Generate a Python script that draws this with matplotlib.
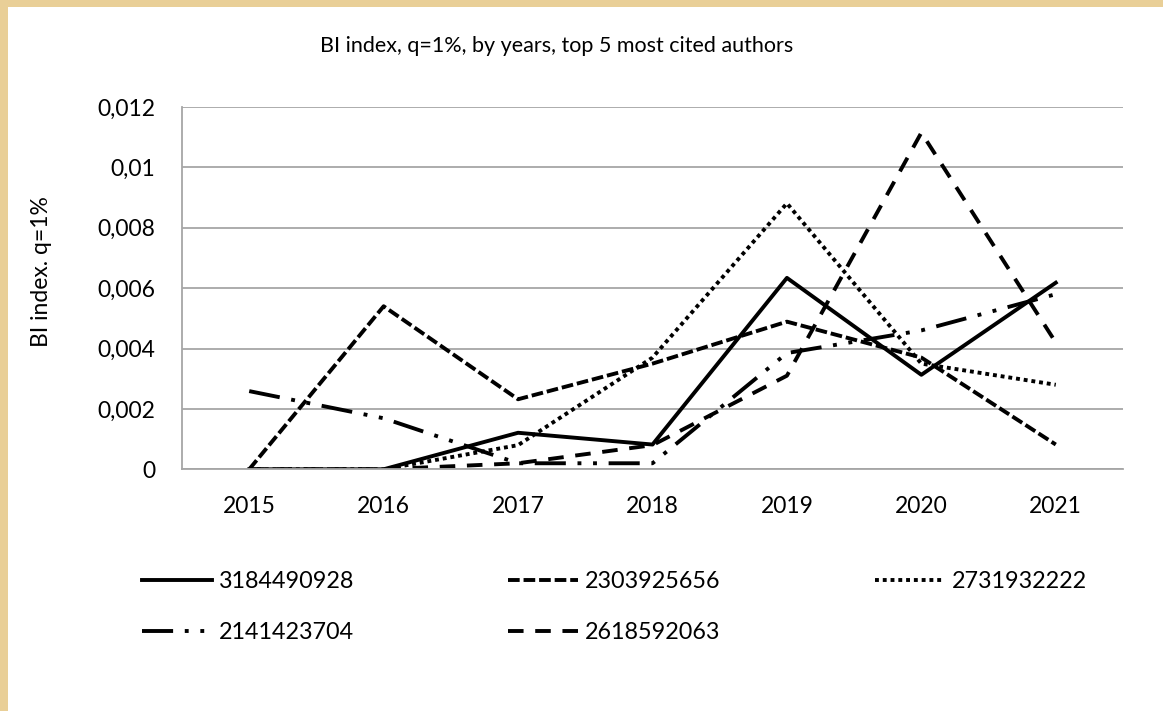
import numpy as np
import matplotlib
matplotlib.use("Agg")
import matplotlib.pyplot as plt
from matplotlib.patches import Rectangle
from matplotlib.ticker import FuncFormatter, MultipleLocator

plt.rcParams['font.family'] = ['Lato', 'DejaVu Sans']

# =========================
# DATA
# =========================
years = ['2015', '2016', '2017', '2018', '2019', '2020', '2021']
authors = ['3184490928', '2303925656', '2731932222', '2141423704', '2618592063']

bi_3184490928 = [0.0, 0.0, 0.00121, 0.00082, 0.00634, 0.00313, 0.00618]
bi_2303925656 = [0.0, 0.0054, 0.00232, 0.0035, 0.00489, 0.0037, 0.00082]
bi_2731932222 = [0.0, 0.0, 0.0008, 0.0037, 0.00881, 0.0035, 0.0028]
bi_2141423704 = [0.00259, 0.00169, 0.0002, 0.0002, 0.00385, 0.0046, 0.0058]
bi_2618592063 = [0.0, 0.0, 0.0002, 0.0008, 0.0031, 0.01115, 0.0042]

series = [bi_3184490928, bi_2303925656, bi_2731932222, bi_2141423704, bi_2618592063]
# excel line styles: solid, sysDash, sysDot, lgDashDotDot, dash
styles = ['-', (0, (3, 1)), (0, (1, 1)), (0, (8, 3, 1, 3, 1, 3)), (0, (4, 3))]

# =========================
# FIGURE
# =========================
W, H = 1163, 711
fig = plt.figure(figsize=(W / 100, H / 100), dpi=100, facecolor='#E9CF97')
fig.add_artist(Rectangle((8 / W, 0), 1, 1 - 7 / H, transform=fig.transFigure,
                         facecolor='white', edgecolor='none', zorder=0))

ax = fig.add_axes([182 / W, 1 - 469.3 / H, (1123 - 182) / W, (469.3 - 107) / H])
ax.set_facecolor('white')

x = np.arange(len(years))
lines = []
for vals, name, ls in zip(series, authors, styles):
    ln, = ax.plot(x, vals, color='black', lw=2.8, linestyle=ls, label=name)
    lines.append(ln)

ax.set_xlim(-0.5, len(years) - 0.5)
ax.set_ylim(0, 0.012)
ax.yaxis.set_major_locator(MultipleLocator(0.002))
ax.yaxis.set_major_formatter(FuncFormatter(lambda v, p: f'{v:g}'.replace('.', ',')))
ax.set_xticks(x)
ax.set_xticklabels(years)

grid_c = '#A6A6A6'
ax.grid(axis='y', color=grid_c, lw=1.3)
ax.set_axisbelow(True)
for s in ['top', 'right']:
    ax.spines[s].set_visible(False)
ax.spines['left'].set_color(grid_c)
ax.spines['bottom'].set_color(grid_c)
ax.spines['left'].set_linewidth(1.3)
ax.spines['bottom'].set_linewidth(1.3)
ax.tick_params(axis='both', length=0, labelsize=16.5)
ax.tick_params(axis='y', pad=19)
ax.tick_params(axis='x', pad=19)

ax.set_ylabel('BI index. q=1%', fontsize=16.5)
ax.yaxis.set_label_coords((52 - 182) / 941, (469.3 - 271.5) / 362.3)

fig.text(557 / W, 1 - 46 / H, 'BI index, q=1%, by years, top 5 most cited authors',
         ha='center', va='center', fontsize=15.5)

# legend: 3 columns, row-wise order like excel
order = [0, 3, 1, 4, 2]
leg = fig.legend([lines[i] for i in order], [authors[i] for i in order],
                 ncol=3, loc='upper left', bbox_to_anchor=(142 / W, 1 - 571 / H),
                 frameon=False, fontsize=16.8, handlelength=3.0, handletextpad=0.3,
                 columnspacing=6.6, labelspacing=1.3, borderaxespad=0, borderpad=0)

fig.savefig('out.png', dpi=100, facecolor=fig.get_facecolor())
